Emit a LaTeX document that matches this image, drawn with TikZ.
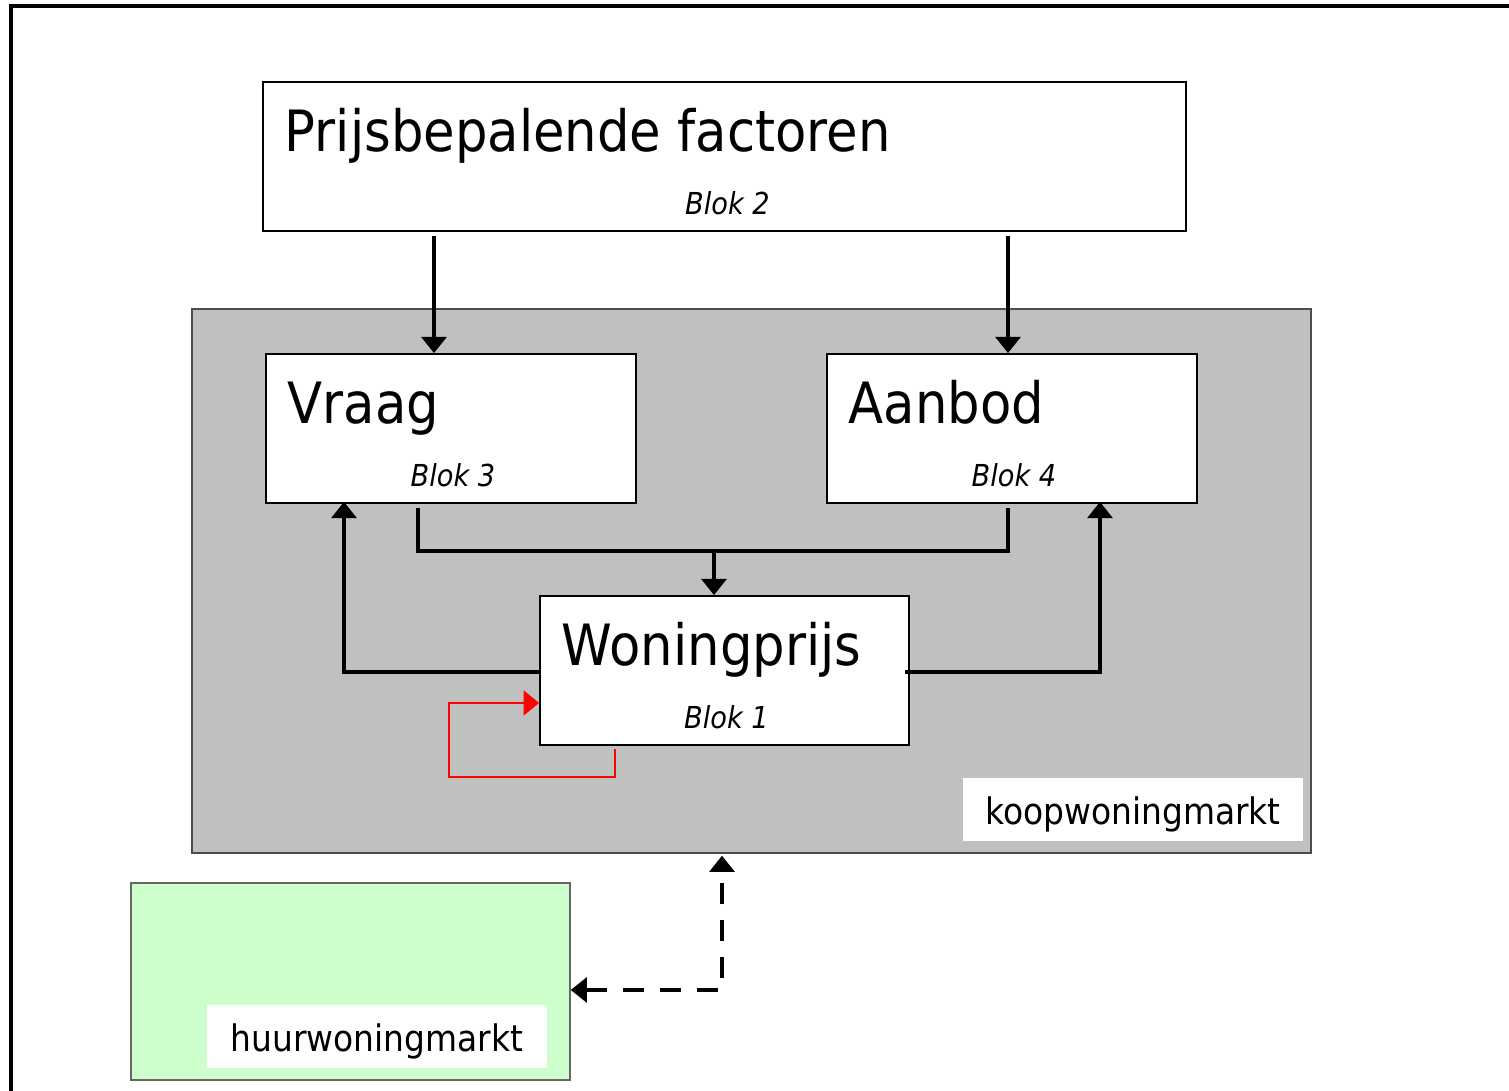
\documentclass[tikz,border=0pt]{standalone}
\usepackage{fontspec}
\setmainfont{DejaVu Sans}[FakeStretch=0.9]
\usepackage{tikz}
\usetikzlibrary{arrows.meta, positioning}
\definecolor{grijs}{HTML}{C0C0C0}
\definecolor{lichtgroen}{HTML}{CCFFCC}
\tikzset{
  blok/.style={
    draw,
    line width=0.5pt,
    fill=white,
    minimum width=3.70cm,
    minimum height=1.49cm,
    inner sep=0pt
  },
  titel/.style={anchor=base west, inner sep=0pt, font=\fontsize{16.2}{18}\selectfont},
  bloknr/.style={anchor=base, inner sep=0pt, font=\fontsize{8.6}{10}\selectfont\itshape},
  marktnaam/.style={fill=white, minimum width=3.40cm, minimum height=0.63cm,
    inner sep=0pt, text height=0.86em, text depth=0pt, font=\fontsize{10.4}{12}\selectfont},
  pijl/.style={line width=1.4pt, -{Triangle[width=7pt,length=4.6pt]}},
  lijn/.style={line width=1.4pt},
  rood/.style={red, line width=0.75pt, -{Triangle[width=7pt,length=4.4pt]}},
  stippel/.style={line width=1.4pt, dash pattern=on 0.21cm off 0.16cm,
    {Triangle[width=7pt,length=4.6pt]}-{Triangle[width=7pt,length=4.6pt]}}
}
\begin{document}
\begin{tikzpicture}
        \useasboundingbox (0,0) rectangle (15.09,10.91);
        % outer frame
        \draw[line width=0.9pt] (0.11,10.85) rectangle (15.40,-0.30);

        % the two markets
        \node[draw=black!70, line width=0.4pt, fill=grijs, minimum width=11.19cm,
              minimum height=5.44cm, inner sep=0pt] (koop) at (7.515,5.10) {};
        \node[draw=black!60, line width=0.4pt, fill=lichtgroen, minimum width=4.39cm,
              minimum height=1.97cm, inner sep=0pt] (huur) at (3.505,1.095) {};
        \node[marktnaam] (kooplabel) at (11.33,2.815) {koopwoningmarkt};
        \node[marktnaam] (huurlabel) at (3.77,0.545) {huurwoningmarkt};

        % Define the nodes
        \node[blok, minimum width=9.23cm] (factoren) at (7.245,9.345) {};
        \node[blok] (vraag)  at (4.51,6.625) {};
        \node[blok] (aanbod) at (10.12,6.625) {};
        \node[blok, minimum width=3.69cm] (prijs) at (7.245,4.205) {};

        % texts in the blocks
        \node[titel] (factorentekst) at ([xshift=0.22cm,yshift=-0.70cm]factoren.north west) {Prijsbepalende factoren};
        \node[bloknr] (factorennr) at ([xshift=0.03cm,yshift=0.17cm]factoren.south) {Blok 2};
        \node[titel] (vraagtekst) at ([xshift=0.22cm,yshift=-0.70cm]vraag.north west) {Vraag};
        \node[bloknr] (vraagnr) at ([xshift=0.02cm,yshift=0.17cm]vraag.south) {Blok 3};
        \node[titel] (aanbodtekst) at ([xshift=0.22cm,yshift=-0.70cm]aanbod.north west) {Aanbod};
        \node[bloknr] (aanbodnr) at ([xshift=0.02cm,yshift=0.17cm]aanbod.south) {Blok 4};
        \node[titel] (prijstekst) at ([xshift=0.22cm,yshift=-0.70cm]prijs.north west) {Woningprijs};
        \node[bloknr] (prijsnr) at ([xshift=0.02cm,yshift=0.17cm]prijs.south) {Blok 1};

        % Arrows
        \coordinate (samen) at (7.14,5.40);
        \coordinate (lus) at (4.49,3.14);
        \draw[pijl, shorten <=0.04cm] (factoren.south -| 4.34,0) -- (vraag.north -| 4.34,0);
        \draw[pijl, shorten <=0.04cm] (factoren.south -| 10.08,0) -- (aanbod.north -| 10.08,0);
        \draw[lijn, shorten <=0.04cm, shorten >=0.04cm]
              ([xshift=-0.33cm]vraag.south) |- (samen) -| ([xshift=-0.04cm]aanbod.south);
        \draw[pijl] (samen) -- (prijs.north -| samen);
        \draw[pijl, shorten >=-0.02cm] ([yshift=-0.015cm]prijs.west) -| ([xshift=-1.07cm]vraag.south);
        \draw[pijl, shorten >=-0.02cm] ([xshift=-0.05cm,yshift=-0.015cm]prijs.east) -| ([xshift=0.88cm]aanbod.south);
        \draw[rood, shorten <=0.03cm] ([xshift=-1.095cm]prijs.south) |- (lus) |- ([yshift=-0.325cm]prijs.west);
        \draw[stippel, shorten >=0.02cm] ([yshift=-0.085cm]huur.east) -| ([xshift=-0.295cm]koop.south);
\end{tikzpicture}
\end{document}
